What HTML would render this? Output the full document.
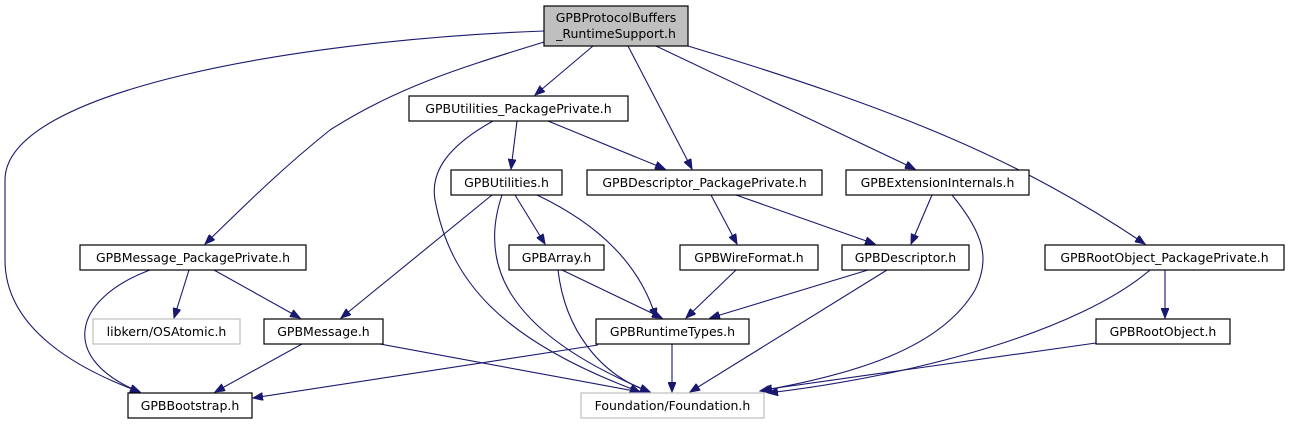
<!DOCTYPE html>
<html><head><meta charset="utf-8"><style>
html,body{margin:0;padding:0;background:#fff}
svg{display:block}
text{font-family:"DejaVu Sans","Liberation Sans",sans-serif;font-size:12.5px;fill:#000}
.e{fill:none;stroke:#191970;stroke-width:1.1}
.b{fill:#fff;stroke:#000;stroke-width:1.2}
.g{fill:#fff;stroke:#bfbfbf;stroke-width:1.2}
</style></head><body>
<svg width="1289" height="425" viewBox="0 0 1289 425">
<defs><marker id="a" markerWidth="11" markerHeight="8" refX="10" refY="4" orient="auto" markerUnits="userSpaceOnUse"><path d="M0,0 L10,4 L0,8 Z" fill="#191970" stroke="#191970"/></marker></defs>
<g marker-end="url(#a)">
<path class="e" d="M544,31 C300,40 5,90 5,180 L5,260 C5,330 80,370 140,392"/>
<path class="e" d="M544,42 C470,65 400,85 330,130 C280,170 240,210 205,244"/>
<path class="e" d="M593,46 L535,95"/>
<path class="e" d="M628,46 L692,169"/>
<path class="e" d="M656,46 L915,169"/>
<path class="e" d="M688,46 C900,110 1020,160 1145,244"/>
<path class="e" d="M517,121 L511,169"/>
<path class="e" d="M548,121 L665,169"/>
<path class="e" d="M493,121 C450,145 430,170 435,200 C450,280 500,340 640,392"/>
<path class="e" d="M492,195 L341,318"/>
<path class="e" d="M502,195 C480,260 500,330 650,392"/>
<path class="e" d="M515,195 L545,244"/>
<path class="e" d="M537,195 C600,225 640,265 656,318"/>
<path class="e" d="M711,195 L737,244"/>
<path class="e" d="M736,195 L875,244"/>
<path class="e" d="M932,195 L911,244"/>
<path class="e" d="M952,195 C985,235 990,260 975,290 C940,350 850,375 760,391"/>
<path class="e" d="M150,270 C70,300 60,360 140,392"/>
<path class="e" d="M189,270 L174,318"/>
<path class="e" d="M214,270 L300,318"/>
<path class="e" d="M562,270 L662,318"/>
<path class="e" d="M558,270 C565,330 600,375 650,392"/>
<path class="e" d="M736,270 L686,318"/>
<path class="e" d="M868,270 L710,318"/>
<path class="e" d="M887,270 L690,392"/>
<path class="e" d="M1165,270 L1165,318"/>
<path class="e" d="M1150,270 C1080,330 920,375 768,393"/>
<path class="e" d="M598,345 L253,398"/>
<path class="e" d="M672,344 L672,392"/>
<path class="e" d="M302,344 L215,392"/>
<path class="e" d="M380,344 L640,392"/>
<path class="e" d="M1096,343 L762,390"/>
</g>
<rect x="544" y="6" width="144" height="40" fill="#bfbfbf" stroke="#000" stroke-width="1.2"/>
<text x="616" y="22" text-anchor="middle">GPBProtocolBuffers</text>
<text x="616" y="38" text-anchor="middle">_RuntimeSupport.h</text>
<g text-anchor="middle">
<rect class="b" x="409" y="96" width="219" height="25"/><text x="518.5" y="113">GPBUtilities_PackagePrivate.h</text>
<rect class="b" x="451" y="170" width="111" height="25"/><text x="506.5" y="187">GPBUtilities.h</text>
<rect class="b" x="587" y="170" width="235" height="25"/><text x="704.5" y="187">GPBDescriptor_PackagePrivate.h</text>
<rect class="b" x="846" y="170" width="183" height="25"/><text x="937.5" y="187">GPBExtensionInternals.h</text>
<rect class="b" x="80" y="245" width="226" height="25"/><text x="193" y="262">GPBMessage_PackagePrivate.h</text>
<rect class="b" x="509" y="245" width="95" height="25"/><text x="556.5" y="262">GPBArray.h</text>
<rect class="b" x="680" y="245" width="138" height="25"/><text x="749" y="262">GPBWireFormat.h</text>
<rect class="b" x="842" y="245" width="127" height="25"/><text x="905.5" y="262">GPBDescriptor.h</text>
<rect class="b" x="1045" y="245" width="239" height="25"/><text x="1164.5" y="262">GPBRootObject_PackagePrivate.h</text>
<rect class="g" x="93" y="319" width="147" height="25"/><text x="166.5" y="336">libkern/OSAtomic.h</text>
<rect class="b" x="264" y="319" width="119" height="25"/><text x="323.5" y="336">GPBMessage.h</text>
<rect class="b" x="596" y="319" width="153" height="25"/><text x="672.5" y="336">GPBRuntimeTypes.h</text>
<rect class="b" x="1096" y="319" width="134" height="25"/><text x="1163" y="336">GPBRootObject.h</text>
<rect class="b" x="128" y="393" width="124" height="25"/><text x="190" y="410">GPBBootstrap.h</text>
<rect class="g" x="581" y="393" width="183" height="25"/><text x="672.5" y="410">Foundation/Foundation.h</text>
</g>
</svg>
</body></html>
